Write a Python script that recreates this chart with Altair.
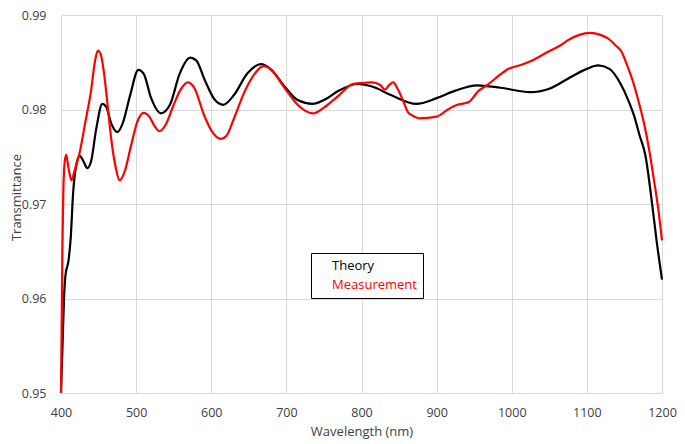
import altair as alt
import pandas as pd

# Theory curve (wavelength nm, transmittance)
theory_wl = [400, 402, 404, 406, 410, 413, 416, 420, 425, 430, 435, 440, 447, 455, 460,
             467, 475, 482, 492, 503, 510, 520, 533, 545, 558, 572, 580, 592, 605, 616,
             630, 648, 666, 680, 697, 715, 735, 750, 770, 794, 815, 840, 873, 900, 925,
             954, 985, 1025, 1050, 1080, 1100, 1115, 1130, 1145, 1155, 1163, 1170, 1178,
             1187, 1193, 1200]
theory_t = [0.950, 0.955, 0.960, 0.9625, 0.9640, 0.9665, 0.9710, 0.9740, 0.9751, 0.9745,
            0.9738, 0.9745, 0.9780, 0.9806, 0.9803, 0.9785, 0.9776, 0.9785, 0.9815, 0.9842,
            0.9838, 0.9812, 0.9796, 0.9805, 0.9838, 0.9855, 0.9852, 0.9830, 0.9810, 0.9805,
            0.9815, 0.9838, 0.9848, 0.9842, 0.9825, 0.9810, 0.9806, 0.9810, 0.9820, 0.9827,
            0.9824, 0.9815, 0.9806, 0.9812, 0.9820, 0.98256, 0.9823, 0.98183, 0.9822, 0.9835,
            0.9843, 0.98466, 0.9843, 0.9827, 0.9810, 0.9793, 0.9773, 0.9751, 0.9699, 0.9660,
            0.9620]

# Measurement curve
meas_wl = [400, 401, 402, 403, 405, 407, 410, 414, 418, 425, 432, 440, 445, 449, 453,
           457, 462, 467, 473, 478, 485, 493, 502, 510, 518, 525, 531, 540, 550, 560,
           569, 578, 590, 600, 613, 620, 630, 645, 658, 669, 680, 697, 715, 735, 750,
           770, 788, 800, 814, 825, 831, 837, 842, 848, 855, 862, 867, 877, 900, 915,
           926, 935, 943, 948, 954, 968, 980, 994, 1014, 1030, 1049, 1065, 1075, 1090,
           1104, 1118, 1128, 1138, 1146, 1153, 1161, 1169, 1176, 1183, 1189, 1195, 1200]
meas_t = [0.950, 0.958, 0.966, 0.971, 0.9745, 0.9752, 0.9738, 0.9725, 0.9735, 0.9755,
          0.9785, 0.9820, 0.9850, 0.98624, 0.9858, 0.9840, 0.9805, 0.9768, 0.9738, 0.9725,
          0.9735, 0.9761, 0.9788, 0.97965, 0.9792, 0.9782, 0.9777, 0.9785, 0.9805, 0.9822,
          0.98286, 0.9822, 0.9795, 0.9778, 0.9769, 0.9772, 0.9790, 0.9820, 0.9838, 0.98459,
          0.9842, 0.98235, 0.9805, 0.97959, 0.9802, 0.9815, 0.98269, 0.9828, 0.98286, 0.9826,
          0.98211, 0.9826, 0.98286, 0.9822, 0.9810, 0.9797, 0.9794, 0.97907, 0.97925, 0.9800,
          0.98045, 0.98062, 0.98079, 0.9812, 0.98183, 0.98262, 0.9834, 0.98424, 0.98476, 0.9853,
          0.98614, 0.9868, 0.98734, 0.9879, 0.9881, 0.9879, 0.98752, 0.9868, 0.98614, 0.9848,
          0.98304, 0.9808, 0.97856, 0.9757, 0.97269, 0.9695, 0.96614]

series = ["Theory", "Measurement"]
colors = ["#000000", "#ff0000"]
x_ticks = [400, 500, 600, 700, 800, 900, 1000, 1100, 1200]
y_ticks = [0.95, 0.96, 0.97, 0.98, 0.99]

df = pd.concat([
    pd.DataFrame({"wl": theory_wl, "t": theory_t, "series": "Theory", "o": 0}),
    pd.DataFrame({"wl": meas_wl, "t": meas_t, "series": "Measurement", "o": 1}),
])

FONT = "Open Sans"
GRID = "#d9d9d9"
TXT = "#404040"

chart = alt.Chart(df).mark_line(strokeWidth=2.2, interpolate="monotone").encode(
    x=alt.X("wl:Q", scale=alt.Scale(domain=[400, 1200], nice=False, zero=False),
            axis=alt.Axis(values=x_ticks, format="d", title="Wavelength (nm)", grid=True,
                          gridColor=GRID, domain=False, ticks=False, tickSize=0,
                          labelPadding=13, labelFlush=False,
                          labelFont=FONT, labelFontSize=12.5, labelColor=TXT,
                          titleFont=FONT, titleFontSize=13, titleFontWeight="normal",
                          titleColor=TXT, titleY=32, titleBaseline="top")),
    y=alt.Y("t:Q", scale=alt.Scale(domain=[0.95, 0.99], nice=False, zero=False),
            axis=alt.Axis(values=y_ticks, format=".2f", title="Transmittance", grid=True,
                          gridColor=GRID, domain=False, ticks=False, tickSize=0,
                          labelPadding=15, labelFont=FONT, labelFontSize=12.5, labelColor=TXT,
                          titleFont=FONT, titleFontSize=13, titleFontWeight="normal",
                          titleColor=TXT, titleX=-38, titleY=182, titleBaseline="bottom",
                          titleAlign="center")),
    color=alt.Color("series:N", scale=alt.Scale(domain=series, range=colors),
                    legend=alt.Legend(title=None, orient="none", legendX=250, legendY=238,
                                      strokeColor="#000000", fillColor="#ffffff", padding=6,
                                      symbolSize=0, symbolOpacity=0, symbolStrokeWidth=0,
                                      labelOffset=2, rowPadding=5,
                                      labelFont=FONT, labelFontSize=13,
                                      labelColor={"expr": "datum.label == 'Measurement' ? '#ff0000' : '#000000'"})),
    order=alt.Order("o:Q"),
).properties(
    width=601, height=378,
    autosize=alt.AutoSizeParams(type="none"),
    padding={"left": 53, "top": 7, "right": 15, "bottom": 51},
).configure_view(stroke=None)

chart.save("out.html", embed_options={"renderer": "svg", "actions": False})
